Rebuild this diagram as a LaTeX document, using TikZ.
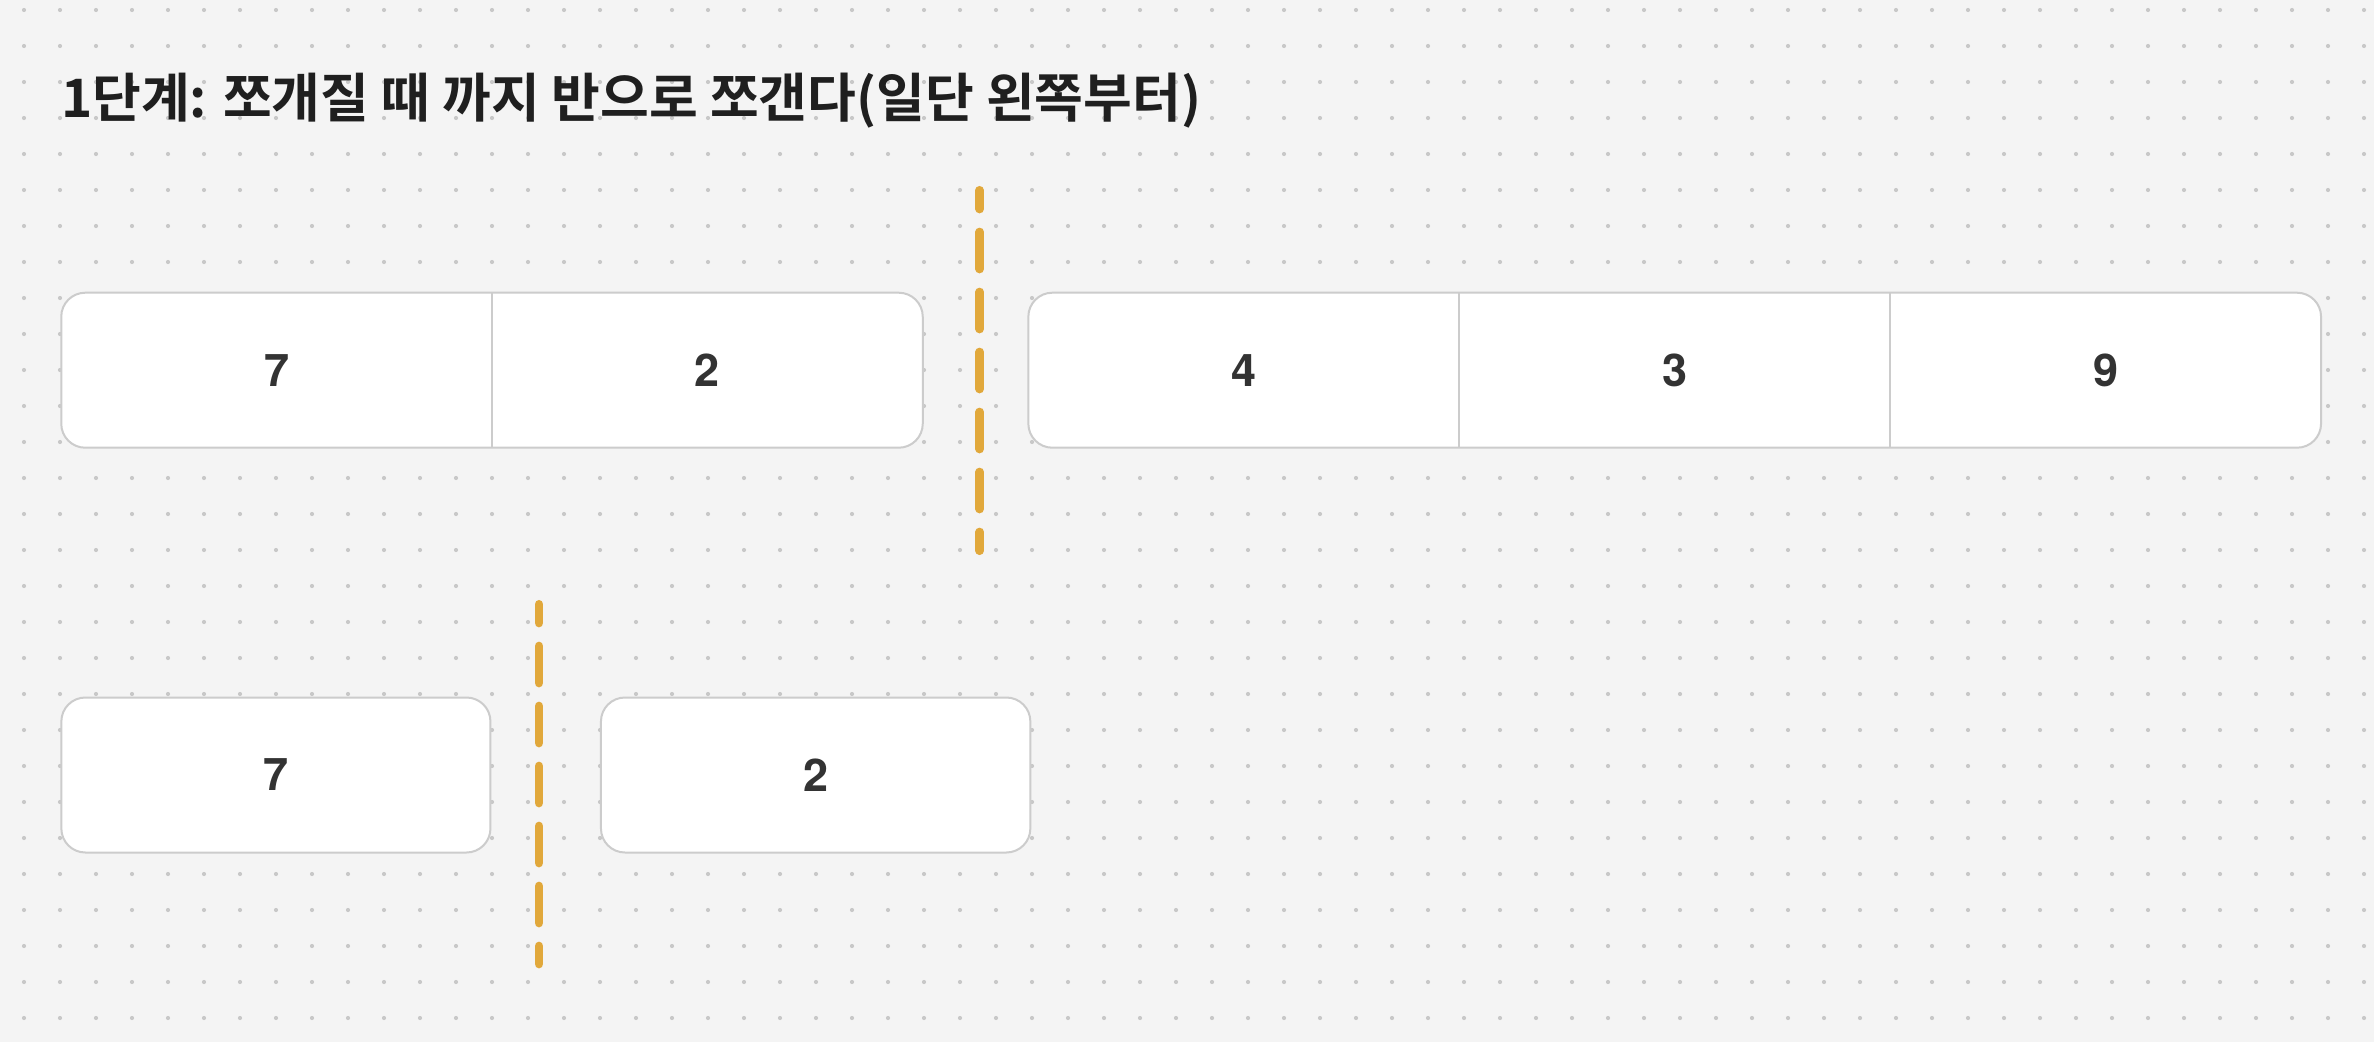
\documentclass[tikz,border=0pt]{standalone}
\usepackage{fontspec}
\setmainfont{TeX Gyre Heros}
\newfontfamily\krfont{Noto Sans CJK KR}[BoldFont={Noto Sans CJK KR Bold}]
\usetikzlibrary{calc,positioning}

\definecolor{bgcol}{HTML}{F4F4F4}
\definecolor{dotgray}{HTML}{C8C8C8}
\definecolor{boxgray}{HTML}{CCCCCC}
\definecolor{numgray}{HTML}{333333}
\definecolor{titlecol}{HTML}{1F1F1F}
\definecolor{cutyellow}{HTML}{E1A83B}

\begin{document}
\begin{tikzpicture}[x=1pt,y=-1pt,
  rowbox/.style={draw=boxgray, line width=2pt, fill=white, rounded corners=24pt,
    minimum height=155pt, inner sep=0pt, outer sep=0pt},
  boxline/.style={draw=boxgray, line width=2pt},
  num/.style={font=\fontsize{45}{45}\selectfont\bfseries, text=numgray},
  cut/.style={draw=cutyellow, line width=8.7pt, line cap=round,
    dash pattern=on 37pt off 23pt, dash phase=18.3pt}]

\fill[bgcol] (0,0) rectangle (2374,1042);
\useasboundingbox (0,0) rectangle (2374,1042);
\foreach \i in {0,...,65}{\foreach \j in {0,...,28}{\fill[dotgray] (24+36*\i,10+36*\j) circle (2.1pt);}}

\node[anchor=base west, inner sep=0pt, text=titlecol,
  font=\krfont\bfseries\fontsize{53}{53}\selectfont] (title) at (61,117)
  {1단계: 쪼개질 때 까지 반으로 쪼갠다(일단 왼쪽부터)};

% first split
\node[rowbox, minimum width=861.5pt] (left) at (492,370.2) {};
\node[rowbox, minimum width=1292.7pt] (right) at (1674.7,370.2) {};
\draw[boxline] (left.north) -- (left.south);
\foreach \f in {1,2}{\draw[boxline] ($(right.north west)!\f/3!(right.north east)$) -- ($(right.south west)!\f/3!(right.south east)$);}
\node[num] (l7) at ($(left.west)!0.25!(left.east)$) {7};
\node[num] (l2) at ($(left.west)!0.75!(left.east)$) {2};
\node[num] (r4) at ($(right.west)!1/6!(right.east)$) {4};
\node[num] (r3) at ($(right.west)!0.5!(right.east)$) {3};
\node[num] (r9) at ($(right.west)!5/6!(right.east)$) {9};

\coordinate (cut1a) at (979.7,190.3);
\coordinate (cut1b) at (979.7,550.7);
\draw[cut] (cut1a) -- (cut1b);

% second split
\node[rowbox, num, minimum width=429.1pt] (b7) at (275.9,775) {7};
\node[rowbox, num, minimum width=429.4pt, right=110.5pt of b7] (b2) {2};

\coordinate (cut2a) at (539,604.3);
\coordinate (cut2b) at (539,964);
\draw[cut] (cut2a) -- (cut2b);
\end{tikzpicture}
\end{document}
